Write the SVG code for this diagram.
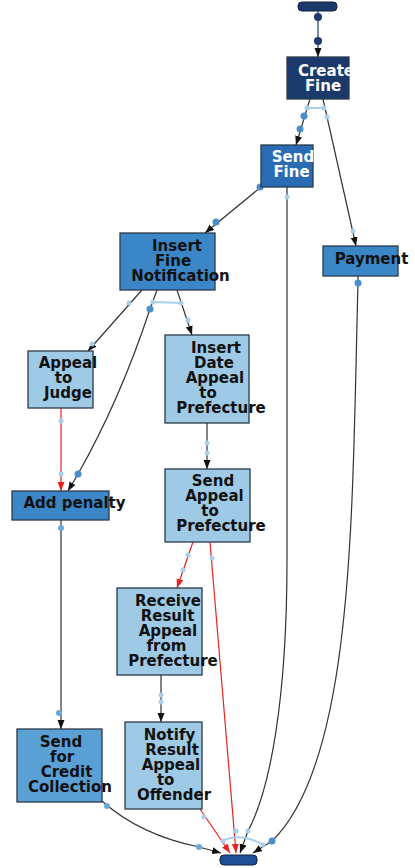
<svg xmlns="http://www.w3.org/2000/svg" width="415" height="868" viewBox="0 0 415 868">
<style>
.n text{font-family:"DejaVu Sans","Verdana",sans-serif;font-weight:bold;font-size:15px;text-anchor:middle;fill:#111}
.n text.w{fill:#fff}
.box{stroke:#2a3a4a;stroke-width:1.3}
.navy{fill:#1b3a6b}
.mid{fill:#3b86c6}
.light{fill:#9ecae6}
.e{fill:none;stroke:#333;stroke-width:1.2}
.e.r{stroke:#e8231f}
.dd{fill:#1b3a6b}
.dm{fill:#4a8fcc}
.dl{fill:#a8d0ea}
.dx{fill:#6aaad8}
.bar{fill:none;stroke:#a8d0ea;stroke-width:2}
</style>
<defs>
<marker id="ab" markerUnits="userSpaceOnUse" markerWidth="10" markerHeight="8" refX="9" refY="3.5" orient="auto"><path d="M0,0 L9,3.5 L0,7 z" fill="#111"/></marker>
<marker id="ar" markerUnits="userSpaceOnUse" markerWidth="10" markerHeight="8" refX="9" refY="3.5" orient="auto"><path d="M0,0 L9,3.5 L0,7 z" fill="#e8231f"/></marker>
</defs>
<rect width="415" height="868" fill="#fff"/>
<g id="connectors">
<path class="e" style="stroke:#1b3a6b" d="M318,11 L318,57" marker-end="url(#ab)"/>
<path class="e" d="M310,99 L296,145" marker-end="url(#ab)"/>
<path class="e" d="M323,99 L356,246" marker-end="url(#ab)"/>
<path class="e" d="M261,187 L205,233" marker-end="url(#ab)"/>
<path class="e" d="M287,187 L287,560 C287,700 270,790 248,831 L240,853" marker-end="url(#ab)"/>
<path class="e" d="M358,276 L358,283 C352,500 356,760 272,841 L253,853" marker-end="url(#ab)"/>
<path class="e" d="M142,290 L88,351" marker-end="url(#ab)"/>
<path class="e" d="M157,290 L150,309 Q120,400 78,474 L68,491" marker-end="url(#ab)"/>
<path class="e" d="M177,290 L192,335" marker-end="url(#ab)"/>
<path class="e r" d="M61,408 L61,491" marker-end="url(#ar)"/>
<path class="e" d="M207,423 L207,469" marker-end="url(#ab)"/>
<path class="e" d="M61,520 L61,729" marker-end="url(#ab)"/>
<path class="e r" d="M193,542 L177,588" marker-end="url(#ar)"/>
<path class="e r" d="M210,542 L236,853" marker-end="url(#ar)"/>
<path class="e" d="M161,675 L161,722" marker-end="url(#ab)"/>
<path class="e" d="M102,801 Q140,835 199,847 L221,853" marker-end="url(#ab)"/>
<path class="e r" d="M200,809 L230,853" marker-end="url(#ar)"/>
<path class="bar" d="M307,108 L324,108"/>
<path class="bar" d="M153,302 L181,303"/>
<path class="bar" d="M222,841 Q240,832 264,845"/>
<circle class="dd" cx="318" cy="17" r="4"/>
<circle class="dd" cx="318" cy="41" r="4"/>
<circle class="dm" cx="304" cy="116" r="3.5"/>
<circle class="dm" cx="300" cy="129" r="3.5"/>
<circle class="dm" cx="260" cy="187" r="3.5"/>
<circle class="dm" cx="216" cy="222" r="3.5"/>
<circle class="dm" cx="150" cy="309" r="3.5"/>
<circle class="dm" cx="78" cy="474" r="3.5"/>
<circle class="dm" cx="358" cy="283" r="3.5"/>
<circle class="dm" cx="272" cy="841" r="3.5"/>
<circle class="dl" cx="307" cy="108" r="2.5"/>
<circle class="dl" cx="324" cy="108" r="2.5"/>
<circle class="dl" cx="327" cy="117" r="2.5"/>
<circle class="dl" cx="287" cy="197" r="2.5"/>
<circle class="dl" cx="353" cy="231" r="2.5"/>
<circle class="dl" cx="129" cy="303" r="2.5"/>
<circle class="dl" cx="92" cy="344" r="2.5"/>
<circle class="dl" cx="153" cy="302" r="2.5"/>
<circle class="dl" cx="181" cy="303" r="2.5"/>
<circle class="dl" cx="188" cy="320" r="2.5"/>
<circle class="dl" cx="61" cy="421" r="2.5"/>
<circle class="dl" cx="61" cy="474" r="2.5"/>
<circle class="dl" cx="207" cy="443" r="2.5"/>
<circle class="dl" cx="207" cy="453" r="2.5"/>
<circle class="dl" cx="188" cy="555" r="2.5"/>
<circle class="dl" cx="183" cy="570" r="2.5"/>
<circle class="dl" cx="212" cy="558" r="2.5"/>
<circle class="dl" cx="161" cy="695" r="2.5"/>
<circle class="dl" cx="161" cy="702" r="2.5"/>
<circle class="dl" cx="204" cy="817" r="2.5"/>
<circle class="dl" cx="236" cy="831" r="2.5"/>
<circle class="dl" cx="248" cy="831" r="2.5"/>
<circle class="dl" cx="223" cy="841" r="2.5"/>
<circle class="dl" cx="263" cy="845" r="2.5"/>
<circle class="dx" cx="61" cy="528" r="3"/>
<circle class="dx" cx="59" cy="713" r="3"/>
<circle class="dx" cx="107" cy="806" r="3"/>
<circle class="dx" cx="199" cy="847" r="3"/>
</g>
<g id="start" class="n"><rect class="navy" x="298" y="2" width="39" height="9" rx="4" stroke="#102040"/></g>
<g id="create-fine" class="n"><rect class="box navy" x="287" y="57" width="62" height="42"/><text class="w"><tspan x="326" y="76">Create</tspan><tspan x="323" y="91">Fine</tspan></text></g>
<g id="send-fine" class="n"><rect class="box" fill="#2a6cb4" x="261" y="145" width="52" height="42"/><text class="w"><tspan x="293" y="162">Send</tspan><tspan x="291.5" y="177">Fine</tspan></text></g>
<g id="payment" class="n"><rect class="box mid" x="323" y="246" width="75" height="30"/><text x="371.5" y="264">Payment</text></g>
<g id="insert-fine-notification" class="n"><rect class="box mid" x="120" y="233" width="95" height="57"/><text><tspan x="177" y="251">Insert</tspan><tspan x="173" y="266">Fine</tspan><tspan x="180.5" y="281">Notification</tspan></text></g>
<g id="appeal-to-judge" class="n"><rect class="box light" x="28" y="351" width="65" height="57"/><text><tspan x="68" y="368">Appeal</tspan><tspan x="63.5" y="383">to</tspan><tspan x="68" y="398">Judge</tspan></text></g>
<g id="insert-date-appeal" class="n"><rect class="box light" x="165" y="335" width="84" height="88"/><text><tspan x="216" y="353">Insert</tspan><tspan x="214" y="368">Date</tspan><tspan x="215" y="383">Appeal</tspan><tspan x="208" y="398">to</tspan><tspan x="221" y="413">Prefecture</tspan></text></g>
<g id="add-penalty" class="n"><rect class="box mid" x="12" y="491" width="97" height="29"/><text x="74.5" y="508">Add penalty</text></g>
<g id="send-appeal" class="n"><rect class="box light" x="165" y="469" width="85" height="73"/><text><tspan x="213" y="486">Send</tspan><tspan x="214.5" y="501">Appeal</tspan><tspan x="210" y="516">to</tspan><tspan x="221" y="531">Prefecture</tspan></text></g>
<g id="receive-result" class="n"><rect class="box light" x="117" y="588" width="85" height="87"/><text><tspan x="168" y="606">Receive</tspan><tspan x="167.5" y="621">Result</tspan><tspan x="168" y="636">Appeal</tspan><tspan x="166.5" y="651">from</tspan><tspan x="173" y="666">Prefecture</tspan></text></g>
<g id="send-credit" class="n"><rect class="box" fill="#5ba0d5" x="17" y="729" width="85" height="73"/><text><tspan x="61" y="747">Send</tspan><tspan x="62" y="762">for</tspan><tspan x="66.5" y="777">Credit</tspan><tspan x="70" y="792">Collection</tspan></text></g>
<g id="notify-result" class="n"><rect class="box light" x="125" y="722" width="77" height="87"/><text><tspan x="169.5" y="740">Notify</tspan><tspan x="172" y="755">Result</tspan><tspan x="171" y="770">Appeal</tspan><tspan x="165.7" y="785">to</tspan><tspan x="174" y="800">Offender</tspan></text></g>
<g id="end" class="n"><rect x="220" y="855" width="37" height="10" rx="4" fill="#1f4f95" stroke="#0d2040"/></g>
</svg>
